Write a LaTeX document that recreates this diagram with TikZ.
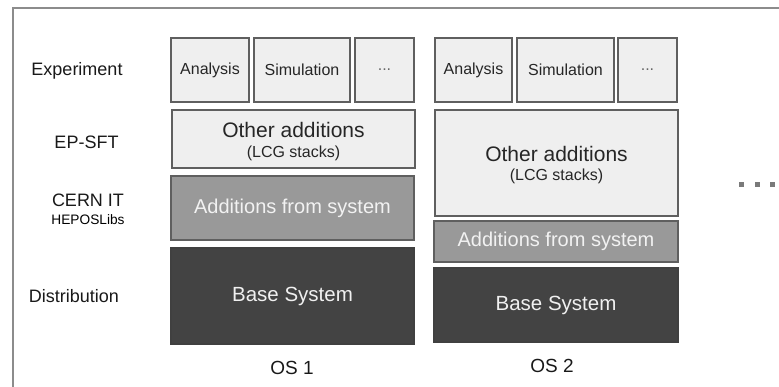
\documentclass[tikz,border=0pt]{standalone}
\usepackage{fontspec}
\setmainfont{Liberation Sans}
\definecolor{framegray}{HTML}{8C8C8C}
\definecolor{boxline}{HTML}{5F5F5F}
\definecolor{lightfill}{HTML}{EFEFEF}
\definecolor{midfill}{HTML}{999999}
\definecolor{darkfill}{HTML}{434343}
\definecolor{dotgray}{HTML}{7A7A7A}
\newcommand\setfs[2]{\fontsize{#1}{#2}\selectfont}
\begin{document}
\begin{tikzpicture}[x=1pt,y=-1pt,
  box/.style={draw=boxline, line width=1.3pt, inner sep=0pt, align=center},
  lightbox/.style={box, fill=lightfill, text=black!85},
  otherbox/.style={lightbox, minimum width=243pt},
  othertext/.style={anchor=base, inner sep=0pt, text=black!85, font=\setfs{21}{24}},
  stacktext/.style={anchor=base, inner sep=0pt, text=black!85, font=\setfs{16}{18}},
  midbox/.style={box, fill=midfill, text=white!95!black, font=\setfs{20}{24}},
  darkbox/.style={box, fill=darkfill, draw=black!75, text=white!94!black, font=\setfs{20.5}{24}},
  appbox/.style={lightbox, minimum height=64pt, font=\setfs{16}{19}},
  rowlabel/.style={inner sep=0pt, text=black!90, font=\setfs{18}{21}},
  oslabel/.style={inner sep=0pt, text=black!90, font=\setfs{19}{22}}]
\useasboundingbox (0,0) rectangle (779,387);
\draw[framegray, line width=2pt] (13,387) -- (13,8) -- (779,8);

\node[rowlabel] (experiment) at (77,71) {Experiment};
\node[rowlabel] (epsft) at (86.5,142) {EP-SFT};
\node[rowlabel] (cernit) at (88,200) {CERN IT};
\node[inner sep=0pt, font=\setfs{13.7}{16}] (heposlibs) at (88,220) {HEPOSLibs};
\node[rowlabel] (distribution) at (74,296) {Distribution};

\node[appbox, minimum width=78pt] (ana1) at (210,70) {Analysis};
\node[appbox, minimum width=96pt] (sim1) at (302,70) {Simulation};
\node[appbox, minimum width=59pt, text=black!60] (etc1) at (384.5,70) {...};
\node[otherbox, minimum height=58pt] (other1) at (293.5,139) {};
\node[othertext] (other1top) at (293.5,138) {Other additions};
\node[stacktext] (other1lcg) at (293.5,158) {(LCG stacks)};
\node[midbox, minimum width=243pt, minimum height=64pt] (addsys1) at (292.5,208) {Additions from system};
\node[darkbox, minimum width=243pt, minimum height=96pt] (base1) at (292.5,296) {Base System};
\node[oslabel] (os1) at (292,368) {OS 1};

\node[appbox, minimum width=77pt] (ana2) at (473.5,70) {Analysis};
\node[appbox, minimum width=97pt] (sim2) at (565.5,70) {Simulation};
\node[appbox, minimum width=59pt, text=black!60] (etc2) at (647.5,70) {...};
\node[otherbox, minimum height=106pt] (other2) at (556.5,163) {};
\node[othertext] (other2top) at (556.5,162) {Other additions};
\node[stacktext] (other2lcg) at (556.5,181) {(LCG stacks)};
\node[midbox, minimum width=244pt, minimum height=41pt] (addsys2) at (556,241.5) {Additions from system};
\node[darkbox, minimum width=244pt, minimum height=74pt] (base2) at (556,305) {Base System};
\node[oslabel] (os2) at (552,366) {OS 2};

\foreach \x in {741.5,757.5,772.5}
  \fill[dotgray] (\x-2.5,182) rectangle (\x+2.5,187);
\end{tikzpicture}
\end{document}
